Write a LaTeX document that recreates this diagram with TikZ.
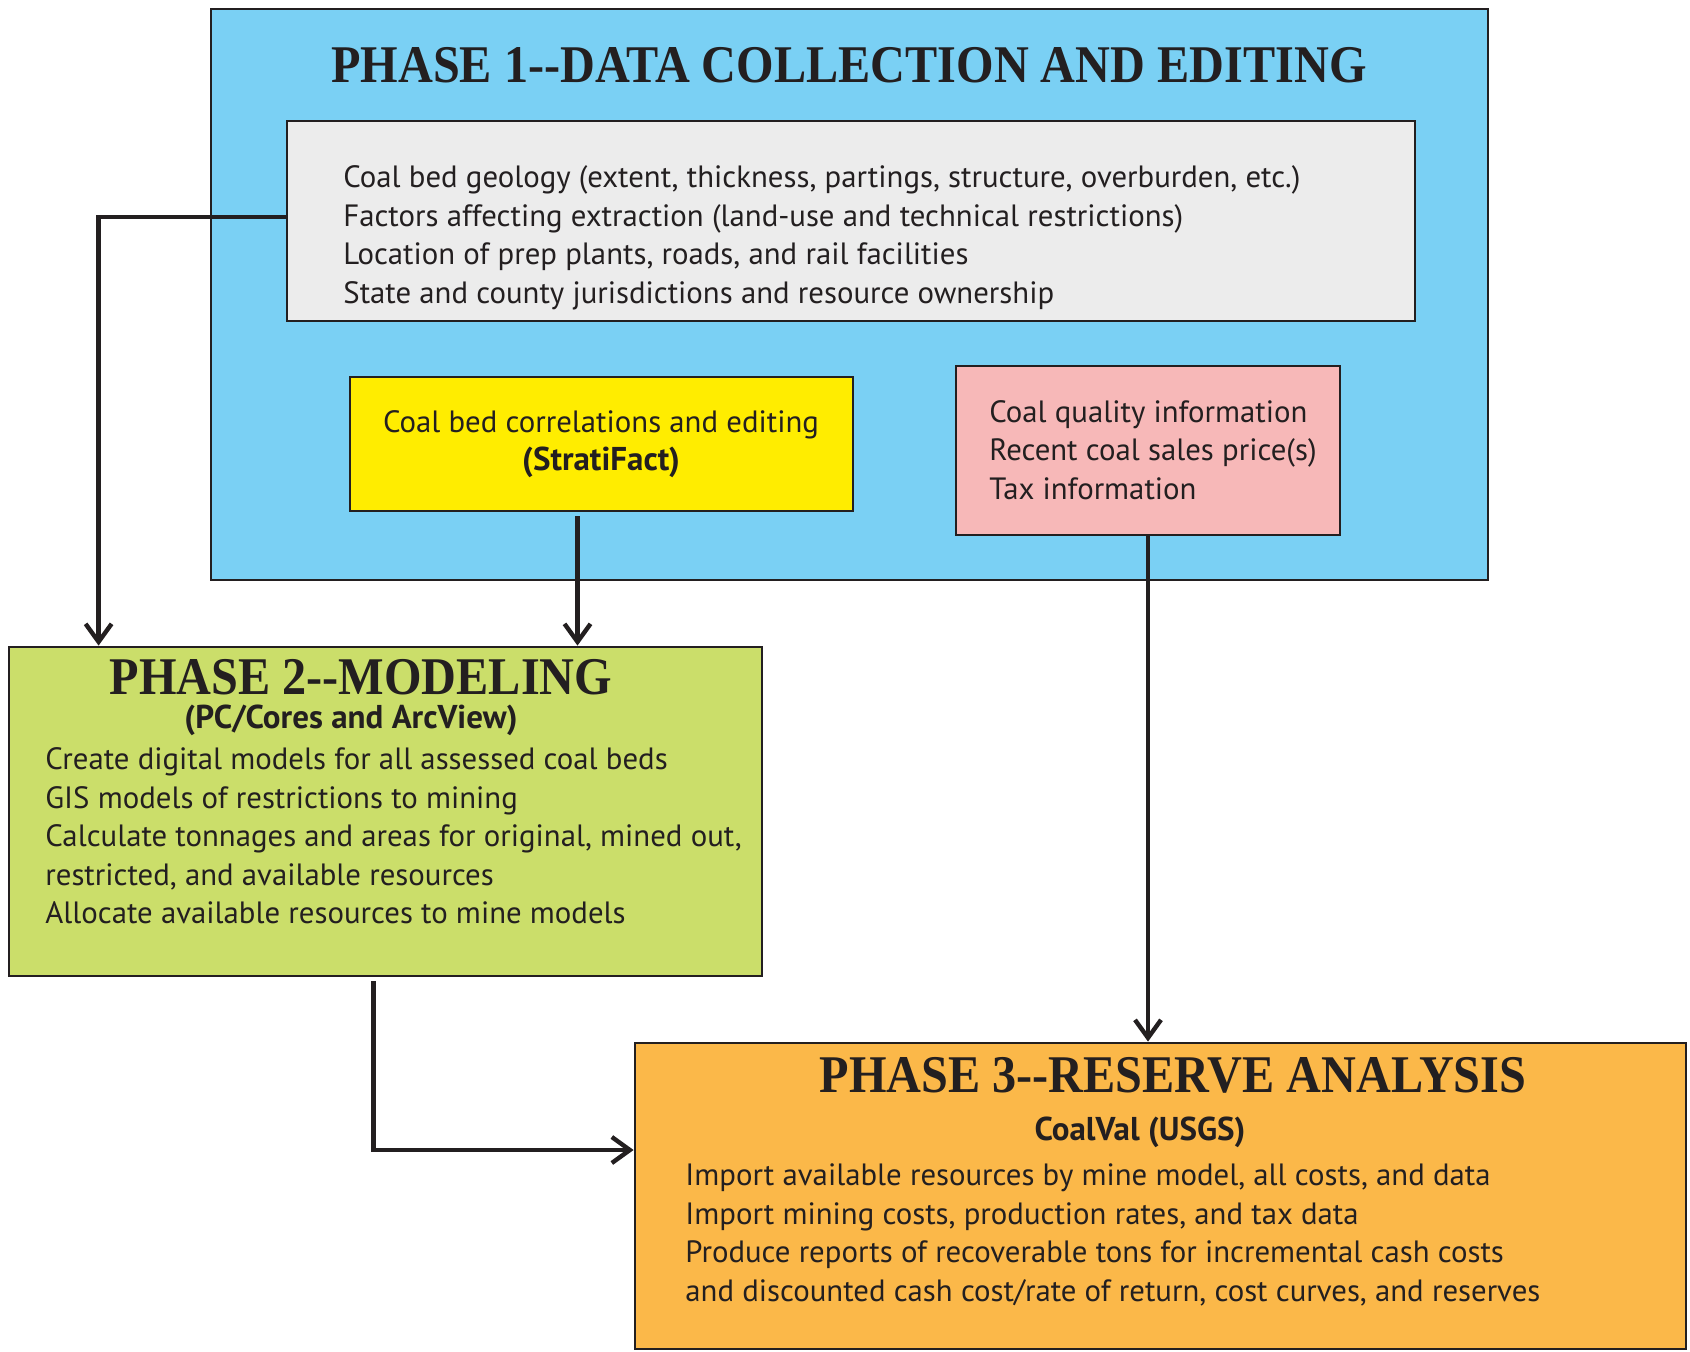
\documentclass[tikz,border=0pt]{standalone}
\usepackage{fontspec}
\setmainfont{PT Sans}
\newfontfamily\phasefont[FakeStretch=0.91]{Liberation Serif}
\usetikzlibrary{arrows.meta}
\definecolor{ink}{RGB}{35,31,32}
\definecolor{phaseblue}{RGB}{122,208,244}
\definecolor{listgray}{RGB}{236,236,236}
\definecolor{corryellow}{RGB}{255,237,0}
\definecolor{qualpink}{RGB}{247,184,184}
\definecolor{modelgreen}{RGB}{203,222,106}
\definecolor{reserveorange}{RGB}{251,184,73}

\begin{document}
\begin{tikzpicture}[x=0.5pt,y=-0.5pt,
		box/.style = {draw=ink, line width=1.4pt, inner sep=0pt},
		title/.style = {font=\phasefont\bfseries\fontsize{26.5}{30}\selectfont, text=ink, inner sep=0pt},
		tool/.style = {font=\bfseries\fontsize{16.5}{19}\selectfont, text=ink, inner sep=0pt},
		body/.style = {font=\fontsize{15.4}{19.3}\selectfont, text=ink, align=left, inner sep=0pt},
		link/.style = {draw=ink, line width=2.2pt, -{Straight Barb[length=9pt,width=13pt]}}]
	\useasboundingbox (0,0) rectangle (1690,1352);

	\node [box, fill=phaseblue, minimum width=638.5pt, minimum height=285.5pt] (p1) at (849.5,294.5) {};
	\node [title] (p1title) at (849,65) {PHASE 1--DATA COLLECTION AND EDITING};
	\node [box, fill=listgray, minimum width=564pt, minimum height=100pt] (gray) at (851,221) {};
	\node [body, anchor=west] (graytext) at (343,238) {Coal bed geology (extent, thickness, partings, structure, overburden, etc.)\\
		Factors affecting extraction (land-use and technical restrictions)\\
		Location of prep plants, roads, and rail facilities\\
		State and county jurisdictions and resource ownership};
	\node [box, fill=corryellow, minimum width=251.5pt, minimum height=67pt] (yellow) at (601.5,444) {};
	\node [body, align=center] (yellowtext) at (601,444) {Coal bed correlations and editing\\ {\bfseries\fontsize{16.5}{19}\selectfont(StratiFact)}};
	\node [box, fill=qualpink, minimum width=192pt, minimum height=84.5pt] (pink) at (1148,450.5) {};
	\node [body, anchor=west] (pinktext) at (989,450) {Coal quality information\\ Recent coal sales price(s)\\ Tax information};

	\node [box, fill=modelgreen, minimum width=376.5pt, minimum height=164.5pt] (p2) at (385.5,811.5) {};
	\node [title] (p2title) at (361,677) {PHASE 2--MODELING};
	\node [tool] (p2tool) at (351,720) {(PC/Cores and ArcView)};
	\node [body, anchor=west] (p2text) at (45,836) {Create digital models for all assessed coal beds\\
		GIS models of restrictions to mining\\
		Calculate tonnages and areas for original, mined out,\\
		restricted, and available resources\\
		Allocate available resources to mine models};

	\node [box, fill=reserveorange, minimum width=525.5pt, minimum height=153pt] (p3) at (1160.5,1196) {};
	\node [title] (p3title) at (1173,1075) {PHASE 3--RESERVE ANALYSIS};
	\node [tool] (p3tool) at (1140,1132) {CoalVal (USGS)};
	\node [body, anchor=west] (p3text) at (685,1235) {Import available resources by mine model, all costs, and data\\
		Import mining costs, production rates, and tax data\\
		Produce reports of recoverable tons for incremental cash costs\\
		and discounted cash cost/rate of return, cost curves, and reserves};

	\coordinate (start1) at ([yshift=2pt]gray.west);
	\coordinate (bend1) at ([xshift=45.5pt]p2.north west);
	\coordinate (start2) at ([xshift=-12pt,yshift=-2pt]yellow.south);
	\coordinate (start4) at ([xshift=-6pt,yshift=-2pt]p2.south);
	\draw [link] (start1) -| (bend1);
	\draw [link] (start2) -- (start2 |- p2.north);
	\draw [link] (pink.south) -- (pink.south |- p3.north);
	\draw [link] (start4) |- ([yshift=23pt]p3.west);
\end{tikzpicture}
\end{document}
